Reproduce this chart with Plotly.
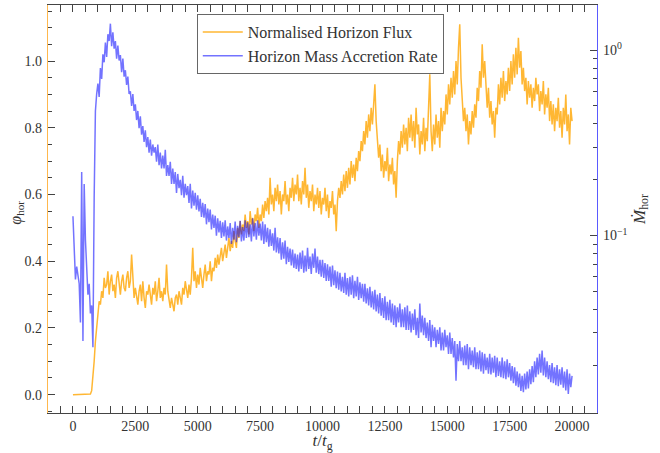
import plotly.graph_objects as go

# Normalised horizon flux (phi_hor), sampled every 50 t_g from t=0
phi = [
0,0,0,0,0,0,0,0,0,0,0,0,0,0,0.002,0.012,0.05,0.10,0.16,0.21,
0.245,0.28,0.27,0.31,0.29,0.35,0.32,0.33,0.37,0.30,0.34,0.36,0.31,0.33,0.29,0.35,0.37,0.33,0.30,0.34,
0.36,0.32,0.31,0.35,0.37,0.32,0.34,0.42,0.33,0.29,0.32,0.30,0.27,0.31,0.33,0.28,0.34,0.29,0.26,0.31,
0.30,0.33,0.29,0.27,0.32,0.30,0.34,0.28,0.31,0.35,0.29,0.31,0.28,0.32,0.30,0.39,0.31,0.28,0.26,0.29,
0.27,0.25,0.29,0.30,0.27,0.31,0.29,0.27,0.32,0.30,0.34,0.31,0.29,0.33,0.30,0.35,0.44,0.34,0.37,0.32,
0.36,0.33,0.38,0.35,0.32,0.36,0.39,0.34,0.37,0.36,0.40,0.34,0.38,0.37,0.41,0.38,0.42,0.39,0.41,0.44,
0.40,0.43,0.45,0.41,0.44,0.47,0.43,0.46,0.44,0.49,0.46,0.44,0.50,0.47,0.52,0.48,0.51,0.49,0.54,0.50,
0.52,0.48,0.55,0.51,0.53,0.49,0.54,0.52,0.56,0.50,0.54,0.52,0.57,0.53,0.58,0.55,0.59,0.54,0.65,0.57,
0.60,0.55,0.62,0.58,0.63,0.57,0.61,0.54,0.60,0.58,0.64,0.57,0.60,0.55,0.62,0.59,0.65,0.58,0.63,0.60,
0.66,0.58,0.62,0.57,0.64,0.60,0.68,0.59,0.63,0.56,0.61,0.58,0.63,0.55,0.60,0.57,0.62,0.56,0.61,0.54,
0.59,0.57,0.62,0.55,0.60,0.53,0.58,0.56,0.61,0.54,0.57,0.49,0.58,0.62,0.59,0.64,0.60,0.66,0.61,0.67,
0.62,0.68,0.63,0.70,0.65,0.69,0.64,0.71,0.67,0.73,0.70,0.76,0.73,0.79,0.75,0.82,0.77,0.84,0.79,0.86,
0.81,0.88,0.93,0.82,0.76,0.71,0.75,0.67,0.72,0.65,0.70,0.67,0.74,0.64,0.69,0.66,0.71,0.63,0.67,0.59,
0.70,0.76,0.72,0.79,0.74,0.81,0.75,0.80,0.73,0.83,0.77,0.84,0.76,0.82,0.74,0.86,0.78,0.81,0.72,0.79,
0.75,0.83,0.73,0.80,0.76,0.85,0.96,0.79,0.73,0.81,0.75,0.84,0.77,0.82,0.74,0.86,0.79,0.85,0.81,0.90,
0.84,0.93,0.87,0.95,0.89,0.97,0.90,1.00,0.93,1.04,1.11,0.95,0.88,0.82,0.86,0.79,0.84,0.75,0.82,0.78,
0.85,0.80,0.87,0.83,0.92,0.88,0.97,0.92,1.05,0.95,1.00,0.91,0.86,0.92,0.83,0.88,0.81,0.85,0.77,0.86,
0.84,0.93,0.87,0.95,0.89,0.97,0.88,0.94,0.90,0.98,0.91,1.00,0.93,1.02,0.95,1.04,0.96,1.07,0.98,1.03,
0.93,0.98,0.91,0.95,0.87,0.94,0.89,0.93,0.86,0.92,0.88,0.95,0.90,0.93,0.85,0.91,0.87,0.94,0.84,0.90,
0.86,0.92,0.82,0.88,0.81,0.87,0.79,0.86,0.82,0.89,0.80,0.85,0.77,0.86,0.81,0.90,0.79,0.84,0.75,0.86,
0.82,
]

# Horizon mass accretion rate (Mdot_hor), sampled every 50 t_g from t=0
mdot = [
0.127,0.075,0.058,0.068,0.062,0.055,0.034,0.22,0.027,0.19,0.095,0.07,0.048,0.055,0.038,0.042,0.025,0.16,0.47,0.58,
0.66,0.56,0.80,0.70,0.95,0.86,1.10,0.92,1.22,1.12,1.39,1.05,1.25,1.02,1.12,0.90,1.06,0.88,0.94,0.76,
0.90,0.72,0.78,0.65,0.72,0.58,0.60,0.50,0.58,0.47,0.51,0.42,0.47,0.38,0.44,0.35,0.39,0.32,0.37,0.30,
0.34,0.28,0.33,0.27,0.31,0.28,0.30,0.25,0.31,0.24,0.28,0.23,0.27,0.23,0.29,0.21,0.24,0.21,0.25,0.19,
0.23,0.19,0.22,0.17,0.215,0.18,0.20,0.165,0.21,0.16,0.19,0.165,0.185,0.15,0.19,0.14,0.175,0.145,0.17,0.138,
0.165,0.135,0.158,0.126,0.15,0.125,0.148,0.115,0.14,0.118,0.138,0.108,0.13,0.11,0.128,0.10,0.124,0.104,0.12,0.097,
0.118,0.099,0.121,0.094,0.112,0.097,0.117,0.09,0.11,0.095,0.119,0.092,0.113,0.098,0.12,0.093,0.111,0.094,0.121,0.097,
0.118,0.098,0.115,0.093,0.124,0.099,0.117,0.095,0.121,0.1,0.116,0.094,0.119,0.09,0.115,0.092,0.11,0.087,0.108,0.088,
0.103,0.083,0.11,0.081,0.098,0.08,0.097,0.074,0.092,0.075,0.094,0.07,0.087,0.072,0.085,0.069,0.084,0.067,0.08,0.066,
0.079,0.064,0.081,0.066,0.083,0.063,0.078,0.064,0.086,0.066,0.077,0.062,0.08,0.067,0.085,0.063,0.077,0.062,0.074,0.06,
0.074,0.059,0.071,0.057,0.07,0.057,0.068,0.053,0.069,0.054,0.065,0.052,0.064,0.051,0.063,0.05,0.06,0.049,0.063,0.048,
0.059,0.047,0.06,0.048,0.061,0.046,0.057,0.047,0.06,0.045,0.056,0.046,0.055,0.044,0.055,0.043,0.052,0.042,0.053,0.041,
0.05,0.04,0.051,0.039,0.048,0.038,0.049,0.037,0.046,0.036,0.047,0.035,0.044,0.035,0.045,0.034,0.043,0.033,0.042,0.032,
0.041,0.034,0.043,0.032,0.04,0.032,0.041,0.031,0.042,0.031,0.039,0.03,0.038,0.031,0.04,0.029,0.036,0.028,0.043,0.03,
0.037,0.029,0.036,0.028,0.034,0.027,0.035,0.025,0.033,0.027,0.032,0.025,0.031,0.026,0.032,0.024,0.03,0.024,0.031,0.025,
0.029,0.023,0.03,0.023,0.028,0.022,0.027,0.0165,0.026,0.021,0.027,0.021,0.025,0.02,0.0255,0.02,0.026,0.019,0.025,0.02,
0.024,0.0195,0.025,0.019,0.0235,0.019,0.024,0.0185,0.0235,0.018,0.023,0.0188,0.022,0.018,0.023,0.0178,0.022,0.0182,0.0225,0.0172,
0.022,0.0175,0.021,0.0172,0.022,0.017,0.021,0.0168,0.0215,0.0172,0.0205,0.0165,0.0198,0.016,0.0195,0.0155,0.0185,0.0152,0.018,0.0145,
0.0175,0.0143,0.018,0.0148,0.0185,0.015,0.019,0.0158,0.0198,0.0162,0.021,0.0172,0.022,0.0178,0.023,0.0182,0.024,0.0176,0.022,0.0172,
0.021,0.0168,0.02,0.0162,0.0205,0.016,0.0195,0.0156,0.02,0.0154,0.019,0.0157,0.0195,0.0151,0.0185,0.0146,0.019,0.014,0.018,0.0152,
0.0175,
]

t_phi = [50 * i for i in range(len(phi))]
t_mdot = [50 * i for i in range(len(mdot))]

x_ticks = [0, 2500, 5000, 7500, 10000, 12500, 15000, 17500, 20000]
x_ticklabels = ["0", "2500", "5000", "7500", "10000", "12500", "15000", "17500", "20000"]
y_ticks = [0.0, 0.2, 0.4, 0.6, 0.8, 1.0]
y_ticklabels = ["0.0", "0.2", "0.4", "0.6", "0.8", "1.0"]
y2_ticks = [0.1, 1.0]
y2_ticklabels = ["10<sup>−1</sup>", "10<sup>0</sup>"]
y2_minor = [0.02, 0.03, 0.04, 0.05, 0.06, 0.07, 0.08, 0.09,
            0.2, 0.3, 0.4, 0.5, 0.6, 0.7, 0.8, 0.9]

ORANGE = "rgba(255,165,0,0.8)"
BLUE = "rgba(0,0,255,0.55)"
TXT = "#333333"
AX = "#444444"
FONT = "Liberation Serif, DejaVu Serif, serif"

fig = go.Figure()
fig.add_trace(go.Scatter(x=t_phi, y=phi, mode="lines", name="Normalised Horizon Flux",
                         line=dict(color=ORANGE, width=1.5)))
fig.add_trace(go.Scatter(x=t_mdot, y=mdot, mode="lines", name="Horizon Mass Accretion Rate",
                         yaxis="y2", line=dict(color=BLUE, width=1.5)))

fig.add_annotation(text="<i>φ</i><sub>hor</sub>", xref="paper", yref="paper",
                   x=-0.059, y=0.49, xanchor="center", yanchor="middle",
                   textangle=-90, showarrow=False, font=dict(size=16, color=TXT))

fig.update_layout(
    width=660, height=453,
    margin=dict(l=48, r=63, t=5, b=40, autoexpand=False),
    paper_bgcolor="white", plot_bgcolor="white",
    font=dict(family=FONT, size=14, color=TXT),
    showlegend=True,
    legend=dict(x=0.271, y=0.978, xanchor="left", yanchor="top",
                bgcolor="white", bordercolor="#666666", borderwidth=1,
                itemwidth=40,
                font=dict(family=FONT, size=16, color=TXT), tracegroupgap=0),
    xaxis=dict(range=[-1000, 21000], tickmode="array", tickvals=x_ticks, ticktext=x_ticklabels,
               ticks="inside", ticklen=7, tickcolor=AX, tickwidth=1,
               minor=dict(ticks="inside", dtick=500, tick0=0, ticklen=3.5, tickcolor=AX),
               showline=True, linecolor=AX, linewidth=1, mirror="allticks",
               showgrid=False, zeroline=False, automargin=False,
               title=dict(text="<i>t</i>/<i>t</i><sub>g</sub>", font=dict(size=17), standoff=0)),
    yaxis=dict(range=[-0.055, 1.168], tickmode="array", tickvals=y_ticks, ticktext=y_ticklabels,
               ticks="inside", ticklen=7, tickcolor=AX, tickwidth=1,
               minor=dict(ticks="inside", dtick=0.05, tick0=0, ticklen=3.5, tickcolor=AX),
               showline=True, linecolor="#FFB84D", linewidth=1.2,
               showgrid=False, zeroline=False, ticklabelstandoff=2, automargin=False),
    yaxis2=dict(type="log", range=[-1.957, 0.2437], overlaying="y", side="right",
                tickmode="array", tickvals=y2_ticks, ticktext=y2_ticklabels,
                ticks="inside", ticklen=7, tickcolor=AX, tickwidth=1,
                minor=dict(ticks="inside", tickmode="array", tickvals=y2_minor, ticklen=3.5, tickcolor=AX),
                showline=True, linecolor="#5A5AFF", linewidth=1.2,
                showgrid=False, zeroline=False, ticklabelstandoff=2, automargin=False,
                title=dict(text="<i>Ṁ</i><sub>hor</sub>", font=dict(size=17), standoff=6)),
)

fig.write_html("out.html", config={"displayModeBar": False},
               post_script="document.body.style.margin='0';")
